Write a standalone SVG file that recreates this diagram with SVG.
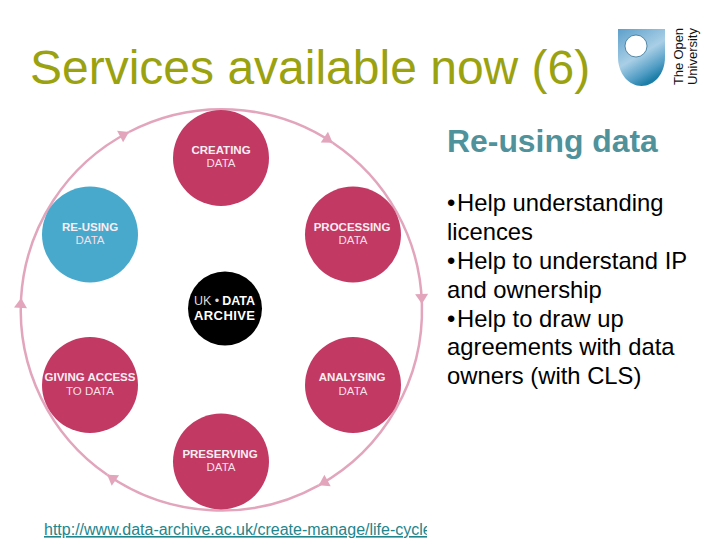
<svg xmlns="http://www.w3.org/2000/svg" width="720" height="540" viewBox="0 0 720 540">
<style>
text{font-family:"Liberation Sans",Arial,sans-serif}
.n{fill:#c23964}
.b{fill:#fbeef3;font-weight:bold;font-size:11.5px;text-anchor:middle}
.r{fill:#f8dfe8;font-size:11.5px;text-anchor:middle}
.c{fill:none;stroke:#e2a5bc;stroke-width:2.500;marker-end:url(#a)}
.l{fill:#000;font-size:23.800px}
</style>
<defs>
<marker id="a" markerUnits="userSpaceOnUse" markerWidth="14" markerHeight="16" viewBox="0 0 14 16" refX="11" refY="8" orient="auto"><path d="M1 1.500L11 8L1 14.500Z" fill="#e2a5bc"/></marker>
<linearGradient id="s" x1="0" y1="0" x2="0.5" y2="1"><stop offset="0" stop-color="#5d9fcb"/><stop offset="0.55" stop-color="#a9cfe6"/><stop offset="0.85" stop-color="#4f9cc4"/><stop offset="1" stop-color="#1d7fa8"/></linearGradient>
<clipPath id="u"><rect x="0" y="515" width="427" height="25"/></clipPath>
</defs>
<rect width="720" height="540" fill="#fff"/>
<text x="30" y="84" font-size="48" fill="#9ba20f">Services available now (6)</text>
<g id="logo">
<path d="M618 29H665V57C665 74 654 86 641.500 86C629 86 618 74 618 57Z" fill="url(#s)"/>
<circle cx="636" cy="46" r="11" fill="#fff" stroke="#2f6f93" stroke-width="0.8"/>
<text transform="translate(683 85) rotate(-90)" font-size="13" fill="#111" textLength="57">The Open</text>
<text transform="translate(697 85) rotate(-90)" font-size="13" fill="#111" textLength="57">University</text>
</g>
<g id="connectors">
<path class="c" d="M129 132A200.500 200.500 0 0 1 332.700 142.700"/>
<path class="c" d="M332.700 142.700A200.500 200.500 0 0 1 421.900 304"/>
<path class="c" d="M421.900 304A200.500 200.500 0 0 1 318.800 485.300"/>
<path class="c" d="M318.800 485.300A200.500 200.500 0 0 1 107.200 474.800"/>
<path class="c" d="M107.200 474.800A200.500 200.500 0 0 1 21.100 298"/>
<path class="c" d="M21.100 298A200.500 200.500 0 0 1 129 132"/>
</g>
<g id="creating"><circle class="n" cx="221" cy="158" r="48"/><text class="b" x="221" y="154">CREATING</text><text class="r" x="221" y="167">DATA</text></g>
<g id="processing"><circle class="n" cx="353" cy="234.500" r="48"/><text class="b" x="352" y="231">PROCESSING</text><text class="r" x="353" y="244">DATA</text></g>
<g id="analysing"><circle class="n" cx="353" cy="385" r="48"/><text class="b" x="352" y="381">ANALYSING</text><text class="r" x="353" y="395">DATA</text></g>
<g id="preserving"><circle class="n" cx="221" cy="461.500" r="48"/><text class="b" x="220" y="458">PRESERVING</text><text class="r" x="221" y="471">DATA</text></g>
<g id="giving-access"><circle class="n" cx="90" cy="385" r="48"/><text class="b" x="90" y="381">GIVING ACCESS</text><text class="r" x="90" y="395">TO DATA</text></g>
<g id="re-using"><circle cx="90" cy="234.500" r="48" fill="#48a9cc"/><text class="b" x="90" y="231">RE-USING</text><text class="r" x="90" y="244">DATA</text></g>
<g id="archive"><circle cx="225" cy="308.500" r="37" fill="#000"/>
<text x="194" y="305" font-size="12.500" fill="#ddd" textLength="61">UK • <tspan font-weight="bold" fill="#fff">DATA</tspan></text>
<text x="194" y="320" font-size="13" font-weight="bold" fill="#fff" textLength="61">ARCHIVE</text></g>
<g clip-path="url(#u)"><text x="44" y="535" font-size="16" fill="#23858c" text-decoration="underline">http://www.data-archive.ac.uk/create-manage/life-cycle</text></g>
<text x="447" y="152" font-size="31.900" font-weight="bold" fill="#4f929b">Re-using data</text>
<g id="bullets">
<text class="l" x="447" y="211">•<tspan x="457">Help understanding</tspan></text>
<text class="l" x="447" y="240">licences</text>
<text class="l" x="447" y="269">•<tspan x="457">Help to understand IP</tspan></text>
<text class="l" x="447" y="298">and ownership</text>
<text class="l" x="447" y="327">•<tspan x="457">Help to draw up</tspan></text>
<text class="l" x="447" y="355">agreements with data</text>
<text class="l" x="447" y="384">owners (with CLS)</text>
</g>
</svg>
